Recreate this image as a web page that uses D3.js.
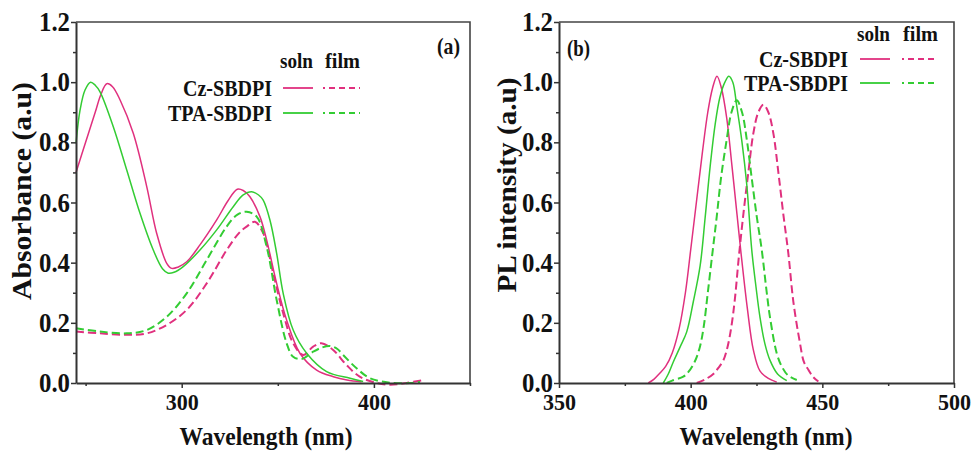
<!DOCTYPE html>
<html>
<head>
<meta charset="utf-8">
<script src="https://cdn.jsdelivr.net/npm/d3@7"></script>
<style>
  html, body { margin: 0; padding: 0; background: #fff; }
  svg text { font-family: "Liberation Serif", "Times New Roman", serif; font-weight: bold; fill: #111; }
</style>
</head>
<body>
<svg id="chart" width="971" height="451"></svg>
<script>
// ---- Absorbance spectra: [wavelength (nm), absorbance (a.u.)] ----
const czAbsSoln = [[245,0.70],[250,0.80],[255,0.90],[258,0.96],[261,0.995],[264,0.985],[268,0.94],[274.8,0.83],[281.8,0.653],[287,0.497],[292.2,0.398],[294.8,0.381],[298,0.385],[302.6,0.403],[309.5,0.459],[318.2,0.542],[324,0.605],[328.9,0.644],[332,0.64],[335.5,0.619],[340.7,0.553],[344.2,0.475],[349.4,0.331],[354.6,0.209],[361.5,0.099],[370.2,0.043],[378.9,0.021],[386,0.01],[393.6,0.004]];
const czAbsFilm = [[245,0.171],[257.5,0.165],[271.4,0.16],[281.8,0.165],[292.2,0.193],[302.6,0.243],[313,0.331],[323.4,0.442],[330,0.50],[333.8,0.52],[338.1,0.536],[342.4,0.498],[347.6,0.365],[352.8,0.232],[358,0.132],[363.2,0.093],[368.4,0.121],[372.7,0.132],[378.8,0.11],[385.7,0.06],[392.6,0.021],[401.3,0.0],[408.3,-0.006],[417,0.0],[425.7,0.01]];
const tpaAbsSoln = [[245,0.797],[247.1,0.907],[249.7,0.974],[252.6,1.0],[255,0.99],[257.5,0.968],[264.4,0.852],[271.4,0.708],[278.3,0.564],[285.2,0.442],[290,0.38],[293,0.365],[296,0.368],[300.8,0.387],[309.5,0.442],[318.2,0.509],[326.8,0.586],[332,0.625],[336.4,0.636],[340,0.625],[342.4,0.608],[345.9,0.542],[349.4,0.431],[352.8,0.298],[358,0.176],[365,0.099],[375.4,0.038],[387.6,0.016],[394.4,0.005]];
const tpaAbsFilm = [[245,0.182],[257.5,0.171],[271.4,0.165],[281.8,0.176],[292.2,0.22],[302.6,0.298],[313,0.409],[323.4,0.52],[329,0.56],[333.8,0.569],[339,0.553],[344.2,0.453],[349.4,0.276],[354.6,0.132],[358,0.087],[362.4,0.08],[368.4,0.104],[373,0.118],[377.1,0.123],[381,0.113],[384,0.093],[391,0.049],[397.9,0.016],[408.3,0.001],[418.7,0.0],[424,0.003]];

// ---- Photoluminescence spectra: [wavelength (nm), PL intensity (a.u.)] ----
const czPlSoln = [[383.9,0],[386,0.012],[388,0.03],[390.5,0.055],[393,0.1],[395.6,0.18],[398,0.3],[400,0.442],[402.3,0.61],[404.5,0.77],[406.5,0.9],[408.3,0.98],[410,1.02],[411.7,0.98],[413.7,0.88],[415.7,0.72],[417.6,0.56],[419,0.442],[421.5,0.25],[423.8,0.11],[426.3,0.04],[429.5,0.015],[432.7,0.003]];
const czPlFilm = [[402.3,0],[405.5,0.012],[408.6,0.03],[410.5,0.05],[412.4,0.075],[414,0.12],[415.5,0.19],[416.8,0.28],[418.3,0.42],[420,0.56],[421.9,0.7],[423.8,0.83],[425.7,0.9],[427.6,0.925],[429.5,0.9],[431.4,0.83],[433.3,0.7],[435.2,0.56],[437.1,0.43],[439,0.27],[441.5,0.133],[443,0.07],[444.7,0.044],[446.5,0.02],[448.5,0.005]];
const tpaPlSoln = [[389.6,0],[391.5,0.03],[393.4,0.07],[396,0.12],[398.5,0.17],[401,0.27],[403.6,0.39],[405.5,0.55],[407.4,0.72],[409.3,0.86],[411.1,0.95],[413,1.0],[414.5,1.02],[416,1.0],[417.5,0.92],[419.5,0.8],[421.3,0.66],[423.2,0.442],[424.8,0.32],[426.3,0.22],[428.2,0.13],[430.1,0.076],[433,0.03],[436.5,0.008]];
const tpaPlFilm = [[390.9,0],[393,0.008],[397.2,0.021],[399,0.035],[401.5,0.07],[403.5,0.12],[405,0.19],[406.5,0.3],[408.4,0.442],[409.9,0.553],[411.5,0.68],[413.7,0.81],[415.5,0.9],[417.5,0.94],[419.5,0.9],[421.3,0.81],[423.2,0.68],[425.1,0.553],[427,0.442],[428.9,0.3],[430.1,0.22],[432.7,0.098],[434.6,0.055],[437,0.025],[440.3,0.01]];

// ---- Legend / axis labels ----
const compounds = ["Cz-SBDPI", "TPA-SBDPI"];
const states = ["soln", "film"];
const compoundColors = ["#e0307e", "#33cc33"];

const yMajorTicks = [0, 0.2, 0.4, 0.6, 0.8, 1.0, 1.2];
const yMinorTicks = [0.1, 0.3, 0.5, 0.7, 0.9, 1.1];
const absMajorTicks = [300, 400];
const absMinorTicks = [250, 350, 450];
const plMajorTicks = [350, 400, 450, 500];
const plMinorTicks = [375, 425, 475];

const svg = d3.select("#chart");
const FONT = '"Liberation Serif", "Times New Roman", serif';

const panels = [
  {
    tag: "(a)", left: 76, right: 470, domain: [245, 450],
    major: absMajorTicks, minor: absMinorTicks,
    yTitle: "Absorbance (a.u)", yTitleX: 31, yTitleLen: 218, yTitleY: 191,
    xTitleLen: 173, xTitleX: 266,
    series: [[czAbsSoln, czAbsFilm], [tpaAbsSoln, tpaAbsFilm]],
    tagPos: [437, 54],
    legend: { textRight: 272, rowY: [88, 113], headY: 68, solid: [283, 313], dash: [323, 360], soln: 280, film: 325 }
  },
  {
    tag: "(b)", left: 559, right: 954, domain: [350, 500],
    major: plMajorTicks, minor: plMinorTicks,
    yTitle: "PL intensity (a.u)", yTitleX: 516, yTitleLen: 215, yTitleY: 185,
    xTitleLen: 173, xTitleX: 766,
    series: [[czPlSoln, czPlFilm], [tpaPlSoln, tpaPlFilm]],
    tagPos: [567, 56],
    legend: { textRight: 848, rowY: [59, 83], headY: 41, solid: [860, 890], dash: [902, 938], soln: 857, film: 903 }
  }
];

const plotTop = 22, plotBottom = 383;
const y = d3.scaleLinear().domain([0, 1.2]).range([plotBottom, plotTop]);

panels.forEach(p => {
  const x = d3.scaleLinear().domain(p.domain).range([p.left, p.right]);
  const g = svg.append("g");

  // frame (top and right sides)
  g.append("path")
    .attr("d", `M${p.left},${plotTop}H${p.right}V${plotBottom}`)
    .attr("fill", "none").attr("stroke", "#444").attr("stroke-width", 1.6);

  // curves
  const line = d3.line()
    .x(d => x(d[0])).y(d => y(d[1]))
    .curve(d3.curveCatmullRom.alpha(0.5));
  p.series.forEach((pair, ci) => {
    pair.forEach((data, si) => {
      g.append("path")
        .datum(data)
        .attr("d", line)
        .attr("fill", "none")
        .attr("stroke", compoundColors[ci])
        .attr("stroke-width", si === 0 ? 1.5 : 2)
        .attr("stroke-dasharray", si === 0 ? null : "8,4");
    });
  });

  // y axis: minor then major
  g.append("g").attr("transform", `translate(${p.left},0)`)
    .call(d3.axisLeft(y).tickValues(yMinorTicks).tickSize(3).tickFormat("").tickSizeOuter(0))
    .call(a => a.select(".domain").remove())
    .call(a => a.selectAll("line").attr("stroke", "#333").attr("stroke-width", 1.5));
  const ya = g.append("g").attr("transform", `translate(${p.left},0)`)
    .call(d3.axisLeft(y).tickValues(yMajorTicks).tickSize(5).tickPadding(1).tickSizeOuter(0).tickFormat(d3.format(".1f")));
  ya.select(".domain").attr("stroke", "#333").attr("stroke-width", 2);
  ya.selectAll("line").attr("stroke", "#333").attr("stroke-width", 1.5);
  ya.selectAll("text").attr("font-size", 27).attr("font-family", FONT).attr("font-weight", "bold").attr("fill", "#111")
    .attr("textLength", 31).attr("lengthAdjust", "spacingAndGlyphs");

  // x axis: minor then major
  g.append("g").attr("transform", `translate(0,${plotBottom})`)
    .call(d3.axisBottom(x).tickValues(p.minor).tickSize(3).tickFormat("").tickSizeOuter(0))
    .call(a => a.select(".domain").remove())
    .call(a => a.selectAll("line").attr("stroke", "#333").attr("stroke-width", 1.5));
  const xa = g.append("g").attr("transform", `translate(0,${plotBottom})`)
    .call(d3.axisBottom(x).tickValues(p.major).tickSize(5).tickPadding(5).tickSizeOuter(0).tickFormat(d3.format("d")));
  xa.select(".domain").attr("stroke", "#333").attr("stroke-width", 2);
  xa.selectAll("line").attr("stroke", "#333").attr("stroke-width", 1.5);
  xa.selectAll("text").attr("font-size", 24).attr("font-family", FONT).attr("font-weight", "bold").attr("fill", "#111")
    .attr("textLength", 33).attr("lengthAdjust", "spacingAndGlyphs");

  // axis titles
  g.append("text")
    .attr("transform", `translate(${p.yTitleX},${p.yTitleY}) rotate(-90)`)
    .attr("text-anchor", "middle")
    .attr("font-size", 27)
    .attr("textLength", p.yTitleLen).attr("lengthAdjust", "spacingAndGlyphs")
    .text(p.yTitle);
  g.append("text")
    .attr("x", p.xTitleX).attr("y", 445)
    .attr("text-anchor", "middle")
    .attr("font-size", 25)
    .attr("textLength", p.xTitleLen).attr("lengthAdjust", "spacingAndGlyphs")
    .text("Wavelength (nm)");

  // panel tag
  g.append("text").attr("x", p.tagPos[0]).attr("y", p.tagPos[1])
    .attr("font-size", 23).attr("textLength", 23).attr("lengthAdjust", "spacingAndGlyphs").text(p.tag);

  // legend
  const L = p.legend;
  g.append("text").attr("x", L.soln).attr("y", L.headY).attr("font-size", 22)
    .attr("textLength", 33).attr("lengthAdjust", "spacingAndGlyphs").text(states[0]);
  g.append("text").attr("x", L.film).attr("y", L.headY).attr("font-size", 22)
    .attr("textLength", 35).attr("lengthAdjust", "spacingAndGlyphs").text(states[1]);
  compounds.forEach((name, ci) => {
    const ry = L.rowY[ci];
    const t = g.append("text").attr("x", L.textRight).attr("y", ry + 8)
      .attr("text-anchor", "end").attr("font-size", 24).text(name);
    t.attr("textLength", ci === 0 ? 89 : 104).attr("lengthAdjust", "spacingAndGlyphs");
    g.append("line").attr("x1", L.solid[0]).attr("x2", L.solid[1]).attr("y1", ry).attr("y2", ry)
      .attr("stroke", compoundColors[ci]).attr("stroke-width", 1.8);
    g.append("line").attr("x1", L.dash[0]).attr("x2", L.dash[1]).attr("y1", ry).attr("y2", ry)
      .attr("stroke", compoundColors[ci]).attr("stroke-width", 2)
      .attr("stroke-dasharray", "6,4").attr("stroke-dashoffset", 4);
  });
});
</script>
</body>
</html>
